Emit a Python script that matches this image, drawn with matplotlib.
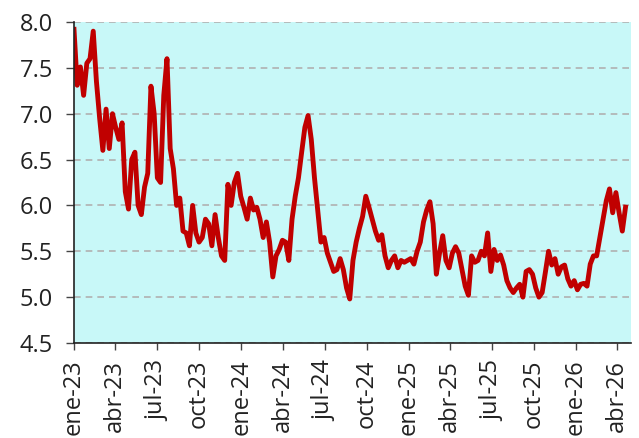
import matplotlib
matplotlib.use("Agg")
import matplotlib.pyplot as plt
import pandas as pd

start_date = "2023-01-01"
values = [
    7.92, 7.31, 7.51, 7.20, 7.55, 7.60, 7.90, 7.35, 6.95, 6.60,
    7.05, 6.62, 7.00, 6.85, 6.72, 6.90, 6.15, 5.96, 6.50, 6.58,
    6.00, 5.90, 6.20, 6.35, 7.30, 7.00, 6.30, 6.25, 7.20, 7.60,
    6.62, 6.40, 6.00, 6.08, 5.72, 5.70, 5.56, 6.00, 5.70, 5.60,
    5.65, 5.85, 5.80, 5.56, 5.90, 5.65, 5.45, 5.40, 6.23, 6.00,
    6.25, 6.35, 6.10, 5.98, 5.85, 6.08, 5.95, 5.98, 5.85, 5.65,
    5.82, 5.60, 5.22, 5.45, 5.52, 5.62, 5.60, 5.40, 5.85, 6.10,
    6.30, 6.58, 6.85, 6.98, 6.72, 6.30, 5.95, 5.60, 5.65, 5.48,
    5.38, 5.28, 5.30, 5.42, 5.30, 5.10, 4.98, 5.40, 5.60, 5.75,
    5.88, 6.10, 5.98, 5.85, 5.72, 5.62, 5.68, 5.45, 5.32, 5.40,
    5.45, 5.32, 5.40, 5.38, 5.40, 5.42, 5.36, 5.50, 5.60, 5.82,
    5.95, 6.04, 5.80, 5.25, 5.48, 5.67, 5.40, 5.32, 5.48, 5.55,
    5.48, 5.30, 5.12, 5.02, 5.45, 5.38, 5.40, 5.50, 5.45, 5.70,
    5.28, 5.52, 5.40, 5.46, 5.35, 5.18, 5.10, 5.05, 5.10, 5.14,
    5.00, 5.28, 5.30, 5.25, 5.10, 5.00, 5.05, 5.27, 5.50, 5.35,
    5.42, 5.25, 5.33, 5.35, 5.20, 5.12, 5.18, 5.08, 5.14, 5.15,
    5.12, 5.36, 5.45, 5.45, 5.65, 5.85, 6.05, 6.18, 5.92, 6.14,
    5.92, 5.72, 5.98,
]
dates = pd.date_range(start_date, periods=len(values), freq="7D")

tick_dates = pd.date_range("2023-01-01", "2026-04-01", freq="3MS")
month_abbr = {1: "ene", 4: "abr", 7: "jul", 10: "oct"}
tick_labels = [f"{month_abbr[d.month]}-{d.strftime('%y')}" for d in tick_dates]
y_ticks = [4.5, 5.0, 5.5, 6.0, 6.5, 7.0, 7.5, 8.0]

plt.rcParams["font.family"] = ["Open Sans", "DejaVu Sans"]

fig = plt.figure(figsize=(6.39, 4.38), dpi=100)
ax = fig.add_axes([0.1158, 0.2169, 0.8717, 0.7329])
ax.set_facecolor("#c8f8f8")

ax.plot(dates, values, color="#c00000", linewidth=3.5, solid_joinstyle="round")

ax.set_xlim(pd.Timestamp("2023-01-01"), pd.Timestamp("2026-05-01"))
ax.set_ylim(4.5, 8.0)
ax.set_yticks(y_ticks)
ax.set_yticklabels([f"{v:.1f}" for v in y_ticks])
ax.set_xticks(tick_dates)
ax.set_xticklabels(tick_labels, rotation=90)

ax.grid(axis="y", linestyle=(0, (4, 3)), color="#b0b0b0", linewidth=1.2)
ax.set_axisbelow(True)
for s in ["top", "right"]:
    ax.spines[s].set_visible(False)
for s in ["left", "bottom"]:
    ax.spines[s].set_color("#222222")
    ax.spines[s].set_linewidth(1.2)
ax.tick_params(axis="both", direction="out", width=1.0,
               color="#444444", labelsize=17, labelcolor="#222222")
ax.tick_params(axis="y", length=6, pad=9)
ax.tick_params(axis="x", length=5, pad=7)

fig.savefig("out.png", dpi=100)
